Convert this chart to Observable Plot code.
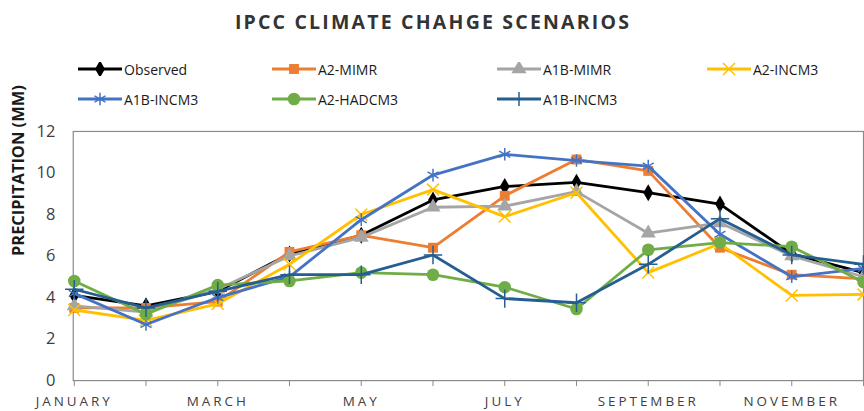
<!DOCTYPE html>
<html>
<head>
<meta charset="utf-8">
<script src="https://cdn.jsdelivr.net/npm/d3@7"></script>
<script src="https://cdn.jsdelivr.net/npm/@observablehq/plot@0.6"></script>
<style>
  html, body { margin: 0; padding: 0; background: #fff; overflow: hidden; }
  #wrap { position: relative; width: 864px; height: 411px; overflow: hidden; font-family: "Open Sans", sans-serif; }
  #header { position: relative; width: 864px; height: 120px; }
  #title { position: absolute; left: 0; width: 866px; top: 8px; text-align: center; font-weight: 700; font-size: 19.5px; letter-spacing: 2.2px; color: #333333; }
  .leg { position: absolute; display: flex; align-items: center; font-size: 14px; color: #1a1a1a; white-space: nowrap; }
  .leg svg { margin-right: 2px; }
  #chart svg text { font-family: "Open Sans", sans-serif; }
  #chart [aria-label="x-axis tick label"] text { letter-spacing: 3px; }
</style>
</head>
<body>
<div id="wrap">
  <div id="header">
    <div id="title">IPCC CLIMATE CHAHGE SCENARIOS</div>
    <div id="legend"></div>
  </div>
  <div id="chart"></div>
</div>
<script>
const months = ["JANUARY","FEBRUARY","MARCH","APRIL","MAY","JUNE","JULY","AUGUST","SEPTEMBER","OCTOBER","NOVEMBER","DECEMBER"];
const yTicks = [0, 2, 4, 6, 8, 10, 12];

const observed  = [4.1, 3.6, 4.3, 6.1, 7.0, 8.7, 9.35, 9.55, 9.05, 8.5, 6.1, 5.2];
const a2Mimr    = [3.5, 3.5, 3.8, 6.2, 7.0, 6.4, 8.9, 10.65, 10.1, 6.4, 5.1, 4.9];
const a1bMimr   = [3.6, 3.3, 4.4, 6.0, 6.9, 8.35, 8.4, 9.1, 7.1, 7.6, 6.0, 5.0];
const a2Incm3   = [3.4, 2.9, 3.7, 5.6, 8.0, 9.2, 7.9, 9.05, 5.2, 6.6, 4.1, 4.15];
const a1bIncm3  = [4.2, 2.7, 4.0, 5.0, 7.75, 9.9, 10.9, 10.6, 10.33, 7.05, 5.0, 5.4];
const a2Hadcm3  = [4.8, 3.2, 4.6, 4.8, 5.2, 5.1, 4.5, 3.45, 6.3, 6.65, 6.45, 4.75];
const a1bIncm3b = [4.4, 3.5, 4.3, 5.1, 5.1, 6.05, 3.95, 3.75, 5.6, 7.8, 6.05, 5.6];

const series = [
  {key: "obs",  name: "Observed",  values: observed,  color: "#000000", symbol: "diamond",  filled: true,  r: 5.2},
  {key: "a2m",  name: "A2-MIMR",   values: a2Mimr,    color: "#ED7D31", symbol: "square",   filled: true,  r: 5.6},
  {key: "a1bm", name: "A1B-MIMR",  values: a1bMimr,   color: "#A5A5A5", symbol: "triangle", filled: true,  r: 5.6},
  {key: "a2i",  name: "A2-INCM3",  values: a2Incm3,   color: "#FFC000", symbol: "times",    filled: false, r: 5.5},
  {key: "a1bi", name: "A1B-INCM3", values: a1bIncm3,  color: "#4472C4", symbol: "asterisk", filled: false, r: 6.0},
  {key: "a2h",  name: "A2-HADCM3", values: a2Hadcm3,  color: "#70AD47", symbol: "circle",   filled: true,  r: 6.3},
  {key: "a1bi2",name: "A1B-INCM3", values: a1bIncm3b, color: "#255E91", symbol: "plus",     filled: false, r: 6.0}
];

const d3Sym = {
  diamond: d3.symbolDiamond, square: d3.symbolSquare, triangle: d3.symbolTriangle,
  times: d3.symbolTimes, asterisk: d3.symbolAsterisk, circle: d3.symbolCircle, plus: d3.symbolPlus
};

// Legend
const legendPos = [
  [78, 69], [272, 69], [497, 69], [707, 69],
  [78, 99], [272, 99], [497, 99]
];
const legend = document.getElementById("legend");
series.forEach((s, i) => {
  const [lx, ly] = legendPos[i];
  const div = document.createElement("div");
  div.className = "leg";
  div.style.left = lx + "px";
  div.style.top = (ly - 10) + "px";
  div.style.height = "20px";
  const path = d3.symbol().type(d3Sym[s.symbol]).size(s.r * s.r * Math.PI)();
  const mark = s.filled
    ? `<path d="${path}" transform="translate(22,7)" fill="${s.color}"/>`
    : `<path d="${path}" transform="translate(22,7)" fill="none" stroke="${s.color}" stroke-width="1.5"/>`;
  div.innerHTML = `<svg width="44" height="14"><line x1="0" x2="44" y1="7" y2="7" stroke="${s.color}" stroke-width="3"/>${mark}</svg><span>${s.name}</span>`;
  legend.appendChild(div);
});

// Long data
const rows = [];
series.forEach(s => s.values.forEach((v, i) => rows.push({key: s.key, month: months[i], value: v})));

const marks = [
  Plot.frame({stroke: "#8a8a8a", strokeWidth: 1.2}),
  Plot.axisY({ticks: yTicks, tickSize: 0, tickPadding: 18, fontSize: 16.5, fill: "#404040", label: null}),
  Plot.axisX({ticks: months, tickSize: 6, tickPadding: 10, fontSize: 13.5, fill: "#404040", stroke: "#8a8a8a",
              tickFormat: (d) => months.indexOf(d) % 2 === 0 ? d : "", label: null}),
  Plot.text(["PRECIPITATION (MM)"], {frameAnchor: "left", dx: -55, rotate: -90, fontSize: 16.5, fontWeight: 700, fill: "#1a1a1a", letterSpacing: 1})
];
series.forEach(s => {
  const data = rows.filter(r => r.key === s.key);
  marks.push(Plot.line(data, {x: "month", y: "value", stroke: s.color, strokeWidth: 2.8, curve: "linear"}));
  if (s.filled) {
    marks.push(Plot.dot(data, {x: "month", y: "value", symbol: s.symbol, r: s.r, fill: s.color, stroke: "none"}));
  } else {
    marks.push(Plot.dot(data, {x: "month", y: "value", symbol: s.symbol, r: s.r, fill: "none", stroke: s.color, strokeWidth: 1.5}));
  }
});

const chart = Plot.plot({
  width: 867,
  height: 291,
  marginTop: 11,
  marginBottom: 30,
  marginLeft: 73,
  marginRight: 1,
  style: {background: "transparent", overflow: "visible"},
  x: {type: "point", domain: months, padding: 0},
  y: {domain: [0, 12]},
  marks
});
document.getElementById("chart").appendChild(chart);
</script>
</body>
</html>
